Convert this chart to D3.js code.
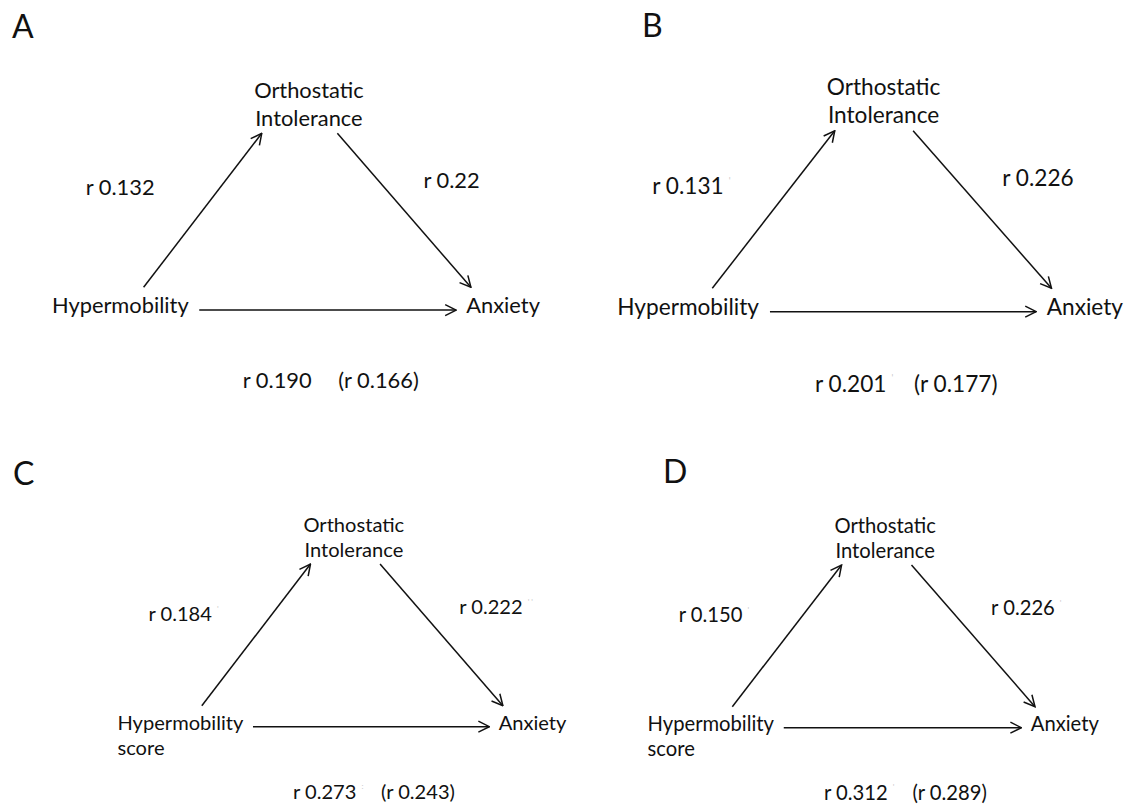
<!DOCTYPE html>
<html>
<head>
<meta charset="utf-8">
<script src="https://cdn.jsdelivr.net/npm/d3@7"></script>
<style>
body { margin: 0; background: #fff; }
svg text { font-family: Lato, "Open Sans", sans-serif; fill: #111; }
</style>
</head>
<body>
<div id="chart"></div>
<script>
// data
const panelLetters = ["A", "B", "C", "D"];
const predictorLabels = [["Hypermobility"], ["Hypermobility"], ["Hypermobility", "score"], ["Hypermobility", "score"]];
const mediatorLabel = ["Orthostatic", "Intolerance"];
const outcomeLabel = "Anxiety";
const rPredictorMediator = ["0.132", "0.131", "0.184", "0.150"];
const rMediatorOutcome = ["0.22", "0.226", "0.222", "0.226"];
const rTotal = ["0.190", "0.201", "0.273", "0.312"];
const rDirect = ["0.166", "0.177", "0.243", "0.289"];
// faint superscript remnants left after some coefficients
const marksPredictorMediator = ["", "'", "'", "'"];
const marksMediatorOutcome = ["", "", "' '", "'"];
const marksTotal = ["", "'", ":", "'"];

const width = 1130, height = 805;

// pixel frame of each triangle (left base -> right tip, top tip -> base)
const panelLayout = [
    {x: [143.6, 470.9], y: [133.3, 287.3], letter: [12, 38]},
    {x: [712.3, 1051.5], y: [130.7, 288.3], letter: [642, 37]},
    {x: [201.8, 502.9], y: [564, 705.7], letter: [13, 485]},
    {x: [732.3, 1035], y: [565, 706.7], letter: [663, 483]}
];

// shared diagram geometry in unit coordinates
const geom = {
    up: [[0, 1], [0.361, 0]],
    down: [[0.592, 0], [1, 1]],
    direct: [[0.17, 1.148], [0.955, 1.148]],
    mediator: {x: 0.505, y: [-0.226, -0.046]},
    predictor: {x: -0.28, y: [1.17, 1.345]},
    outcome: {x: 0.986, y: 1.17},
    rA: {x: -0.177, y: 0.40},
    rB: {x: 0.855, y: 0.353},
    rTot: {x: 0.303, y: 1.655},
    rDir: {x: 0.595, y: 1.655}
};

const svg = d3.select("#chart").append("svg")
    .attr("width", width)
    .attr("height", height);

svg.append("defs").append("marker")
    .attr("id", "arrow")
    .attr("viewBox", "0 -7 13 14")
    .attr("refX", 12)
    .attr("refY", 0)
    .attr("markerUnits", "userSpaceOnUse")
    .attr("markerWidth", 13)
    .attr("markerHeight", 14)
    .attr("orient", "auto")
  .append("path")
    .attr("d", "M1,-5.5L12,0L1,5.5")
    .attr("fill", "none")
    .attr("stroke", "#111")
    .attr("stroke-width", 1.5)
    .attr("stroke-linejoin", "miter");

// measure label width to fit the font size to the frame
const probe = svg.append("text").attr("font-size", 100).text(predictorLabels[0][0]);
const probeWidth = probe.node().getComputedTextLength();
probe.remove();

panelLetters.forEach(function(letter, i) {
    const lay = panelLayout[i];
    const x = d3.scaleLinear().domain([0, 1]).range(lay.x);
    const y = d3.scaleLinear().domain([0, 1]).range(lay.y);
    const fs = 0.418 * (lay.x[1] - lay.x[0]) * 100 / probeWidth;

    const g = svg.append("g").attr("class", "panel");

    g.append("text")
        .attr("x", lay.letter[0])
        .attr("y", lay.letter[1])
        .attr("font-size", 32)
        .text(letter);

    const line = d3.line().x(d => x(d[0])).y(d => y(d[1]));
    [geom.up, geom.down, geom.direct].forEach(function(seg) {
        g.append("path")
            .attr("d", line(seg))
            .attr("stroke", "#111")
            .attr("stroke-width", 1.5)
            .attr("fill", "none")
            .attr("marker-end", "url(#arrow)");
    });

    mediatorLabel.forEach(function(t, k) {
        g.append("text")
            .attr("x", x(geom.mediator.x))
            .attr("y", y(geom.mediator.y[k]))
            .attr("text-anchor", "middle")
            .attr("font-size", fs)
            .text(t);
    });

    predictorLabels[i].forEach(function(t, k) {
        g.append("text")
            .attr("x", x(geom.predictor.x))
            .attr("y", y(geom.predictor.y[k]))
            .attr("font-size", fs)
            .text(t);
    });

    g.append("text")
        .attr("x", x(geom.outcome.x))
        .attr("y", y(geom.outcome.y))
        .attr("font-size", fs)
        .text(outcomeLabel);

    function coef(pos, label, mark) {
        const t = g.append("text")
            .attr("x", x(pos.x))
            .attr("y", y(pos.y))
            .attr("font-size", fs)
            .text(label);
        if (mark) {
            t.append("tspan")
                .attr("dx", 5)
                .attr("dy", -fs * 0.45)
                .attr("font-size", fs * 0.4)
                .style("fill", "#c8c8c8")
                .text(mark);
        }
    }

    coef(geom.rA, "r " + rPredictorMediator[i], marksPredictorMediator[i]);
    coef(geom.rB, "r " + rMediatorOutcome[i], marksMediatorOutcome[i]);
    coef(geom.rTot, "r " + rTotal[i], marksTotal[i]);
    coef(geom.rDir, "(r " + rDirect[i] + ")", "");
});
</script>
</body>
</html>
